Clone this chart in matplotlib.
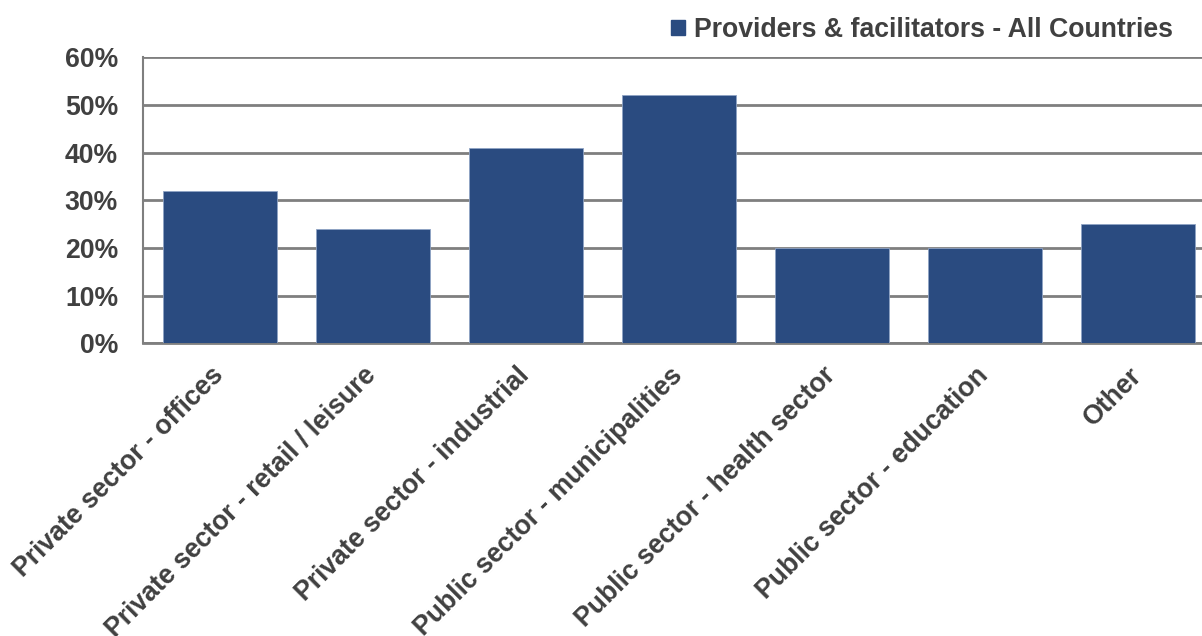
import matplotlib.pyplot as plt
from matplotlib.patches import Patch
from matplotlib.ticker import FuncFormatter
from matplotlib.transforms import ScaledTranslation

categories = [
    "Private sector - offices",
    "Private sector - retail / leisure",
    "Private sector - industrial",
    "Public sector - municipalities",
    "Public sector - health sector",
    "Public sector - education",
    "Other",
]
values = [32, 24, 41, 52, 20, 20, 25]
series_name = "Providers & facilitators - All Countries"

bar_color = "#2A4B80"
grid_color = "#7F7F7F"
text_color = "#404040"
fsize = 19.2

plt.rcParams["font.family"] = ["Liberation Sans", "DejaVu Sans"]
plt.rcParams["font.weight"] = "bold"

fig = plt.figure(figsize=(12.02, 6.36), dpi=100)
ax = fig.add_axes([0.119, 0.46, 0.891, 0.45])

x = range(len(categories))
ax.bar(x, values, width=0.745, color=bar_color, edgecolor="#8FA3C4",
       linewidth=0.6, zorder=3)

ax.set_xlim(-0.5, len(categories) - 0.5)
ax.set_ylim(0, 60)
ax.set_yticks(range(0, 61, 10))
ax.yaxis.set_major_formatter(FuncFormatter(lambda v, p: f"{v:.0f}%"))
ax.grid(axis="y", color=grid_color, linewidth=2, zorder=0)

for side in ["top", "right"]:
    ax.spines[side].set_visible(False)
ax.spines["left"].set_color(grid_color)
ax.spines["left"].set_linewidth(1.5)
ax.spines["bottom"].set_color(grid_color)
ax.spines["bottom"].set_linewidth(2)

ax.tick_params(axis="y", length=0, pad=18, labelsize=fsize, labelcolor=text_color)
ax.tick_params(axis="x", length=0, pad=8, labelsize=fsize, labelcolor=text_color)
ax.set_xticks(list(x))
ax.set_xticklabels(categories, rotation=45, ha="right", va="top",
                   rotation_mode="anchor")
# nudge the slanted category labels so their ends sit under the bar centres
shift = ScaledTranslation(-9 / 100, -8 / 100, fig.dpi_scale_trans)
for lbl in ax.get_xticklabels():
    lbl.set_transform(lbl.get_transform() + shift)
for lbl in ax.get_xticklabels() + ax.get_yticklabels():
    lbl.set_fontweight("bold")

handle = Patch(facecolor=bar_color, edgecolor=bar_color)
fig.legend([handle], [series_name], loc="upper right",
           bbox_to_anchor=(1173 / 1202, 1 - 17 / 636), frameon=False,
           borderpad=0, borderaxespad=0, handlelength=0.5,
           handleheight=0.5, handletextpad=0.35,
           prop={"size": fsize, "weight": "bold"}, labelcolor=text_color)

fig.savefig("out.png", dpi=100)
